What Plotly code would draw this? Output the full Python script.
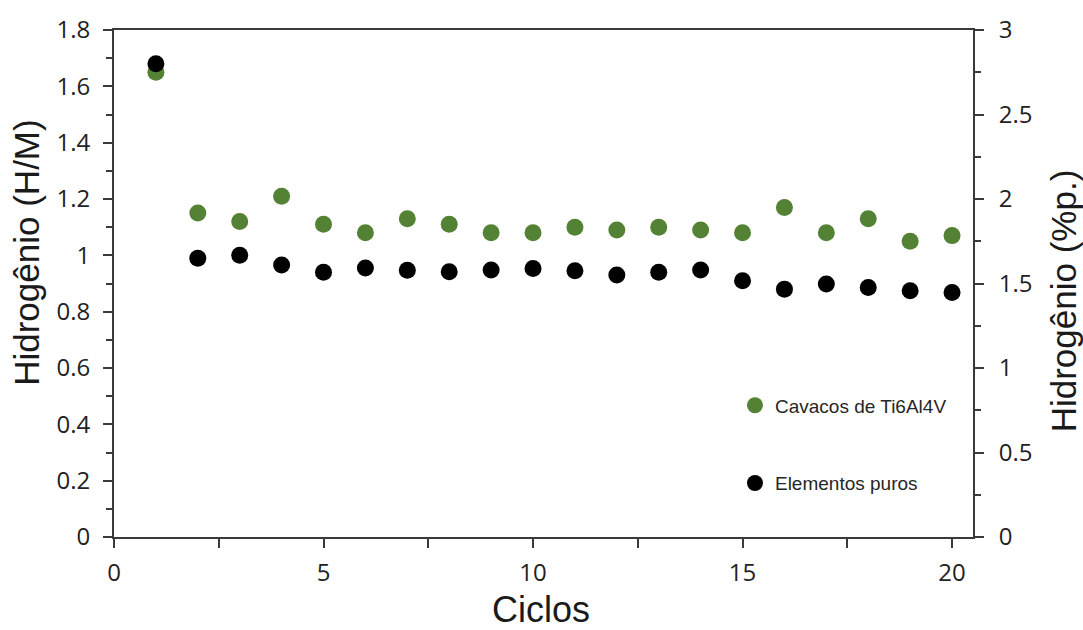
import plotly.graph_objects as go

# Hydrogen absorption per cycle
ciclos = list(range(1, 21))
cavacos_hm = [1.65, 1.15, 1.12, 1.21, 1.11, 1.08, 1.13, 1.11, 1.08, 1.08,
              1.10, 1.09, 1.10, 1.09, 1.08, 1.17, 1.08, 1.13, 1.05, 1.07]
puros_hm = [1.68, 0.99, 1.00, 0.966, 0.94, 0.955, 0.947, 0.942, 0.948, 0.953,
            0.945, 0.93, 0.94, 0.948, 0.91, 0.88, 0.898, 0.886, 0.874, 0.868]

series_names = ["Cavacos de Ti6Al4V", "Elementos puros"]
series_colors = ["#548235", "#000000"]

x_title = "Ciclos"
y_title_left = "Hidrogênio (H/M)"
y_title_right = "Hidrogênio (%p.)"

tick_font = dict(family="Open Sans", size=24, color="#222222")
axis_color = "#3a3a3a"

fig = go.Figure()
for name, color, vals in zip(series_names, series_colors, [cavacos_hm, puros_hm]):
    fig.add_trace(go.Scatter(
        x=ciclos, y=vals, mode="markers", name=name,
        legendgroup=name,
        marker=dict(color=color, size=17, line=dict(width=0)),
    ))

# invisible trace carrying the secondary (wt.%) axis
fig.add_trace(go.Scatter(x=[None], y=[None], yaxis="y2", showlegend=False,
                         hoverinfo="skip"))

fig.update_layout(
    width=1083, height=630,
    margin=dict(l=114, r=110, t=25, b=93),
    paper_bgcolor="white", plot_bgcolor="white",
    showlegend=True,
    legend=dict(
        x=0.7229, y=0.297, xanchor="left", yanchor="top",
        traceorder="grouped", tracegroupgap=50,
        font=dict(family="Liberation Sans", size=19, color="#262626"),
        bgcolor="rgba(0,0,0,0)",
    ),
    xaxis=dict(
        range=[0, 20.5], tick0=0, dtick=5,
        showline=True, linecolor=axis_color, linewidth=2, mirror=True,
        ticks="outside", ticklen=9, tickwidth=2, tickcolor=axis_color,
        minor=dict(dtick=2.5, ticks="outside", ticklen=9, tickwidth=2,
                   tickcolor=axis_color),
        showgrid=False, zeroline=False,
        tickfont=tick_font, ticklabelstandoff=4,
    ),
    yaxis=dict(
        range=[0, 1.8], tick0=0, dtick=0.2,
        showline=True, linecolor=axis_color, linewidth=2,
        ticks="outside", ticklen=9, tickwidth=2, tickcolor=axis_color,
        minor=dict(dtick=0.1, ticks="outside", ticklen=6, tickwidth=2,
                   tickcolor=axis_color),
        showgrid=False, zeroline=False,
        tickfont=tick_font, ticklabelstandoff=8,
    ),
    yaxis2=dict(
        range=[0, 3], tick0=0, dtick=0.5,
        overlaying="y", side="right", anchor="x",
        showline=True, linecolor=axis_color, linewidth=2,
        ticks="outside", ticklen=9, tickwidth=2, tickcolor=axis_color,
        minor=dict(dtick=0.25, ticks="outside", ticklen=6, tickwidth=2,
                   tickcolor=axis_color),
        showgrid=False, zeroline=False,
        tickfont=tick_font, ticklabelstandoff=10,
    ),
    annotations=[
        dict(text=x_title, xref="paper", yref="paper",
             x=(541 - 114) / 859, y=-(610 - 537) / 512,
             xanchor="center", yanchor="middle", showarrow=False,
             font=dict(family="Liberation Sans", size=36, color="#1a1a1a")),
        dict(text=y_title_left, xref="paper", yref="paper",
             x=-(114 - 27) / 859, y=(537 - 250) / 512, textangle=-90,
             xanchor="center", yanchor="middle", showarrow=False,
             font=dict(family="Liberation Sans", size=35, color="#1a1a1a")),
        dict(text=y_title_right, xref="paper", yref="paper",
             x=1 + (1063 - 973) / 859, y=(537 - 299) / 512, textangle=-90,
             xanchor="center", yanchor="middle", showarrow=False,
             font=dict(family="Liberation Sans", size=35, color="#1a1a1a")),
    ],
)

fig.write_html("out.html")
